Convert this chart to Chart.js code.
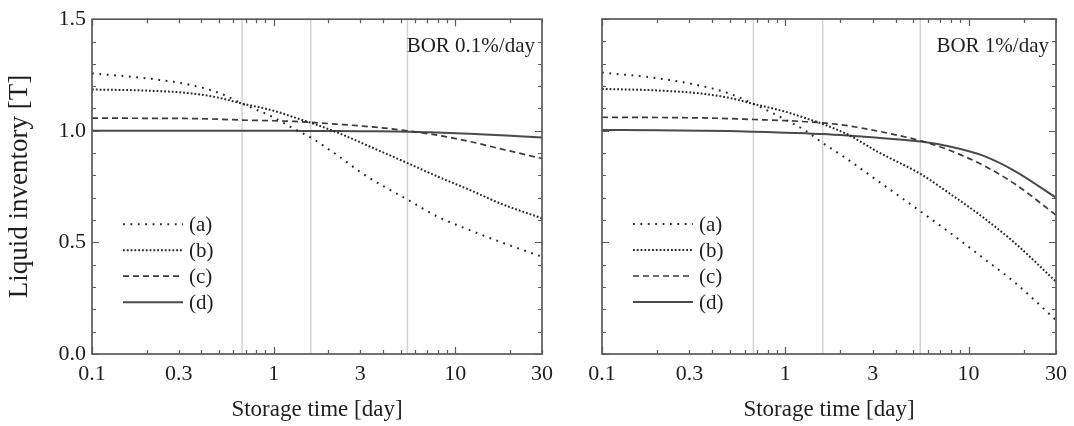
<!DOCTYPE html>
<html>
<head>
<meta charset="utf-8">
<script src="https://cdn.jsdelivr.net/npm/chart.js@4.4.1/dist/chart.umd.min.js"></script>
<style>
  html, body { margin: 0; padding: 0; background: #fff; }
  #wrap { position: relative; width: 1074px; height: 426px; }
  #wrap canvas { position: absolute; top: 0; }
  #left { left: 0; }
  #right { left: 560px; }
</style>
</head>
<body>
<div id="wrap">
  <canvas id="left" width="560" height="426"></canvas>
  <canvas id="right" width="514" height="426"></canvas>
</div>
<script>
// storage time grid [day], shared by every curve
const storageDays = [0.1, 0.2, 0.35, 0.5, 0.67, 1, 1.3, 1.6, 2.2, 3.2, 5.5, 8, 12, 18, 30];

// liquid inventory [T], BOR 0.1%/day
const bor01A = [1.257, 1.235, 1.205, 1.17, 1.122, 1.06, 1.008, 0.97, 0.895, 0.80, 0.69, 0.615, 0.555, 0.50, 0.436];
const bor01B = [1.185, 1.18, 1.168, 1.148, 1.122, 1.09, 1.06, 1.036, 0.995, 0.938, 0.854, 0.795, 0.735, 0.672, 0.608];
const bor01C = [1.057, 1.056, 1.055, 1.052, 1.048, 1.045, 1.042, 1.038, 1.03, 1.02, 1.0, 0.98, 0.952, 0.918, 0.876];
const bor01D = [1.0, 1.0, 1.0, 1.0, 1.0, 1.0, 1.0, 0.999, 0.999, 0.998, 0.996, 0.992, 0.987, 0.98, 0.97];

// liquid inventory [T], BOR 1%/day
const bor1A = [1.26, 1.235, 1.20, 1.165, 1.12, 1.05, 0.998, 0.945, 0.87, 0.775, 0.637, 0.54, 0.43, 0.318, 0.152];
const bor1B = [1.187, 1.18, 1.166, 1.146, 1.12, 1.085, 1.055, 1.03, 0.982, 0.905, 0.805, 0.715, 0.612, 0.495, 0.324];
const bor1C = [1.06, 1.059, 1.057, 1.054, 1.05, 1.045, 1.04, 1.035, 1.022, 0.998, 0.954, 0.91, 0.845, 0.76, 0.622];
const bor1D = [1.003, 1.002, 1.0, 0.998, 0.995, 0.991, 0.988, 0.985, 0.978, 0.968, 0.951, 0.928, 0.888, 0.818, 0.70];

const seriesLabels = ['(a)', '(b)', '(c)', '(d)'];
const markerDays = [0.67, 1.6, 5.45];
const xTickValues = [0.1, 0.3, 1, 3, 10, 30];
const yTickValues = [0, 0.5, 1.0, 1.5];

const serif = '"Liberation Serif", "Times New Roman", serif';
const textColor = '#1e1e1e';
const frameColor = '#5a5a5a';

const seriesStyles = [
  { color: '#262626', width: 2, dash: [1.8, 5.6] },
  { color: '#262626', width: 2, dash: [1.8, 2.0] },
  { color: '#3a3a3a', width: 1.7, dash: [6, 4] },
  { color: '#4a4a4a', width: 2, dash: [] }
];

// minor tick positions on the log axis (1..9 per decade) and every 0.1 on y
const xMinor = [];
[0.1, 1, 10].forEach(d => {
  for (let m = 1; m <= 9; m++) {
    const v = +(d * m).toPrecision(3);
    if (v <= 30) xMinor.push({ v, major: m === 1 });
  }
});
const yMinor = [];
for (let i = 0; i <= 15; i++) yMinor.push({ v: i / 10, major: i % 5 === 0 });

// frame, inward ticks, corner note and the line-style key
const panelDecor = {
  id: 'panelDecor',
  afterDatasetsDraw(chart, args, opts) {
    const { ctx, chartArea: a, scales: { x, y } } = chart;
    ctx.save();
    ctx.strokeStyle = frameColor;
    ctx.lineWidth = 1.7;
    ctx.strokeRect(a.left, a.top, a.right - a.left, a.bottom - a.top);

    ctx.lineWidth = 1.2;
    ctx.beginPath();
    xMinor.forEach(t => {
      const px = Math.round(x.getPixelForValue(t.v)) + 0.5;
      const len = t.major ? 7 : 4;
      ctx.moveTo(px, a.bottom); ctx.lineTo(px, a.bottom - len);
      ctx.moveTo(px, a.top); ctx.lineTo(px, a.top + len);
    });
    yMinor.forEach(t => {
      const py = Math.round(y.getPixelForValue(t.v)) + 0.5;
      const len = t.major ? 7 : 4;
      ctx.moveTo(a.left, py); ctx.lineTo(a.left + len, py);
      ctx.moveTo(a.right, py); ctx.lineTo(a.right - len, py);
    });
    ctx.stroke();

    ctx.fillStyle = textColor;
    ctx.font = '21px ' + serif;
    ctx.textAlign = 'right';
    ctx.textBaseline = 'middle';
    ctx.fillText(opts.note, a.right - 7, a.top + 27);

    const items = chart.data.datasets.filter(d => d.inLegend);
    items.forEach((d, i) => {
      const yy = a.top + 205 + i * 26;
      ctx.strokeStyle = d.borderColor;
      ctx.lineWidth = d.borderWidth;
      ctx.setLineDash(d.borderDash);
      ctx.beginPath();
      ctx.moveTo(a.left + 31, yy);
      ctx.lineTo(a.left + 91, yy);
      ctx.stroke();
      ctx.setLineDash([]);
      ctx.textAlign = 'left';
      ctx.fillText(d.label, a.left + 97, yy + 1);
    });
    ctx.restore();
  }
};

function buildDatasets(series) {
  const lines = series.map((values, i) => ({
    label: seriesLabels[i],
    data: storageDays.map((t, k) => ({ x: t, y: values[k] })),
    borderColor: seriesStyles[i].color,
    borderWidth: seriesStyles[i].width,
    borderDash: seriesStyles[i].dash,
    pointRadius: 0,
    cubicInterpolationMode: 'monotone',
    fill: false,
    inLegend: true
  }));
  // thin grey guides at the marked storage times
  const guides = markerDays.map(t => ({
    label: '',
    data: [{ x: t, y: 0 }, { x: t, y: 1.5 }],
    borderColor: '#d2d2d2',
    borderWidth: 1.5,
    pointRadius: 0,
    fill: false,
    inLegend: false
  }));
  return lines.concat(guides);
}

function makePanel(canvasId, series, note, withYText) {
  return new Chart(document.getElementById(canvasId), {
    type: 'line',
    data: { datasets: buildDatasets(series) },
    options: {
      responsive: false,
      animation: false,
      events: [],
      layout: { padding: { top: 19, right: 17, bottom: 0, left: 0 } },
      plugins: {
        legend: { display: false },
        tooltip: { enabled: false },
        panelDecor: { note }
      },
      scales: {
        x: {
          type: 'logarithmic',
          min: 0.1,
          max: 30,
          grid: { display: false, drawTicks: false },
          border: { display: false },
          afterBuildTicks: s => { s.ticks = xTickValues.map(v => ({ value: v })); },
          afterFit: s => { s.height = 72; },
          ticks: {
            autoSkip: false,
            maxRotation: 0,
            padding: 7,
            color: textColor,
            font: { family: serif, size: 22 },
            callback: v => String(v)
          },
          title: {
            display: true,
            text: 'Storage time [day]',
            color: textColor,
            font: { family: serif, size: 23 },
            padding: { top: 0, bottom: 2 }
          }
        },
        y: {
          min: 0,
          max: 1.5,
          grid: { display: false, drawTicks: false },
          border: { display: false },
          afterBuildTicks: s => { s.ticks = yTickValues.map(v => ({ value: v })); },
          afterFit: s => { s.width = withYText ? 92 : 42; },
          ticks: {
            display: withYText,
            padding: 6,
            color: textColor,
            font: { family: serif, size: 22 },
            callback: v => v.toFixed(1)
          },
          title: {
            display: withYText,
            text: 'Liquid inventory [T]',
            color: textColor,
            font: { family: serif, size: 27 },
            padding: { top: 4, bottom: 0 }
          }
        }
      }
    },
    plugins: [panelDecor]
  });
}

makePanel('left', [bor01A, bor01B, bor01C, bor01D], 'BOR 0.1%/day', true);
makePanel('right', [bor1A, bor1B, bor1C, bor1D], 'BOR 1%/day', false);
</script>
</body>
</html>
